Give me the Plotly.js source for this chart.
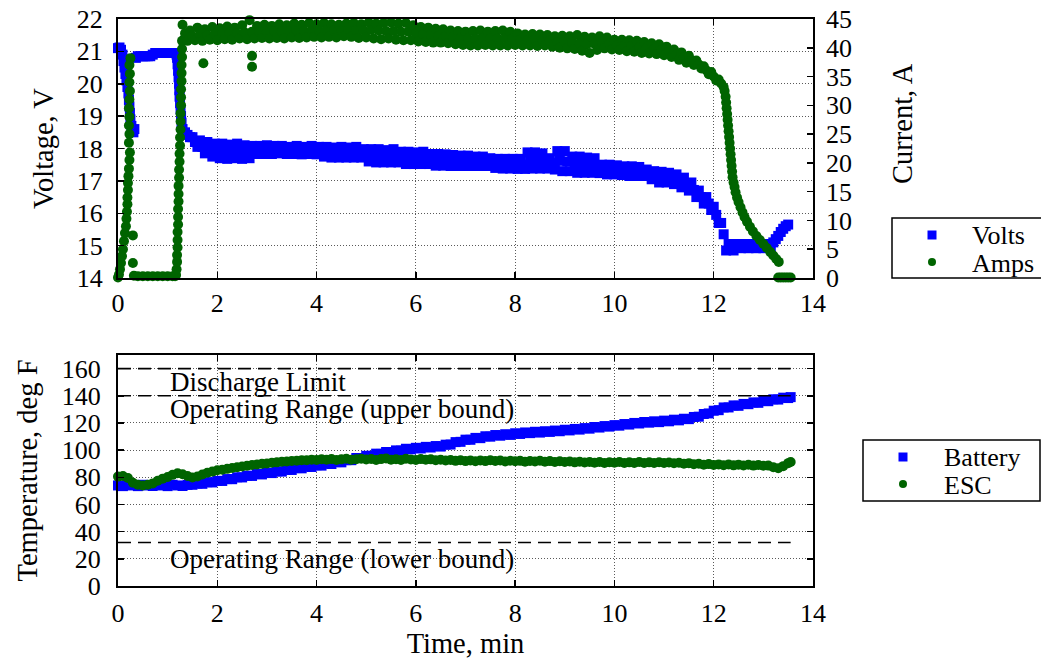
<!DOCTYPE html>
<html>
<head>
<meta charset="utf-8">
<script src="https://cdn.plot.ly/plotly-3.0.1.min.js"></script>
<style>
  html, body { margin: 0; padding: 0; background: #ffffff; }
  #chart { width: 1041px; height: 662px; }
</style>
</head>
<body>
<div id="chart"></div>
<script>
// ---------- Flight log: battery / ESC run, time in minutes ----------

// Pack voltage (V) during the start-up phase
const voltsLeadT = [0,0.03,0.06,0.09,0.11,0.13,0.15,0.17,0.19,0.21,0.22,0.23,0.24,0.25,0.27,0.29,0.31,0.33,
  0.36,0.4,0.45,0.5,0.55,0.6,0.65,0.7,0.75,0.8,0.85,0.9,0.95,1,1.05,1.1,1.15,
  1.18,1.19,1.2,1.21,1.22,1.23,1.235,1.24,1.25,1.26,1.27,1.28];
const voltsLeadV = [21.1,21.12,21.05,20.9,20.7,20.5,20.3,20.1,19.9,19.7,19.5,19.3,19.1,18.9,18.7,18.55,18.5,18.6,
  20.8,20.85,20.85,20.85,20.85,20.85,20.85,20.9,20.95,20.95,20.95,20.95,20.95,20.95,20.95,20.95,20.95,
  20.9,20.8,20.6,20.4,20.2,20.0,19.8,19.6,19.4,19.2,19.0,18.8];

// Logged sample times for the main part of the run (min)
const sampleT = [
  1.3,1.35,1.4,1.45,1.5,1.55,1.6,1.65,1.7,1.75,
  1.8,1.85,1.9,1.95,2,2.05,2.1,2.15,2.2,2.25,
  2.3,2.35,2.4,2.45,2.5,2.55,2.6,2.65,2.7,2.75,
  2.8,2.85,2.9,2.95,3,3.05,3.1,3.15,3.2,3.25,
  3.3,3.35,3.4,3.45,3.5,3.55,3.6,3.65,3.7,3.75,
  3.8,3.85,3.9,3.95,4,4.05,4.1,4.15,4.2,4.25,
  4.3,4.35,4.4,4.45,4.5,4.55,4.6,4.65,4.7,4.75,
  4.8,4.85,4.9,4.95,5,5.05,5.1,5.15,5.2,5.25,
  5.3,5.35,5.4,5.45,5.5,5.55,5.6,5.65,5.7,5.75,
  5.8,5.85,5.9,5.95,6,6.05,6.1,6.15,6.2,6.25,
  6.3,6.35,6.4,6.45,6.5,6.55,6.6,6.65,6.7,6.75,
  6.8,6.85,6.9,6.95,7,7.05,7.1,7.15,7.2,7.25,
  7.3,7.35,7.4,7.45,7.5,7.55,7.6,7.65,7.7,7.75,
  7.8,7.85,7.9,7.95,8,8.05,8.1,8.15,8.2,8.25,
  8.3,8.35,8.4,8.45,8.5,8.55,8.6,8.65,8.7,8.75,
  8.8,8.85,8.9,8.95,9,9.05,9.1,9.15,9.2,9.25,
  9.3,9.35,9.4,9.45,9.5,9.55,9.6,9.65,9.7,9.75,
  9.8,9.85,9.9,9.95,10,10.05,10.1,10.15,10.2,10.25,
  10.3,10.35,10.4,10.45,10.5,10.55,10.6,10.65,10.7,10.75,
  10.8,10.85,10.9,10.95,11,11.05,11.1,11.15,11.2,11.25,
  11.3,11.35,11.4,11.45,11.5,11.55,11.6,11.65,11.7,11.75,
  11.8,11.85,11.9,11.95,12,12.05,12.1,12.15,12.2,12.25,
  12.3,12.35,12.4,12.45,12.5,12.55,12.6,12.65,12.7,12.75,
  12.8,12.85,12.9,12.95,13,13.05,13.1,13.15,13.2,13.25,
  13.3,13.35,13.4,13.45,13.5];

// Pack voltage (V) at each sample time
const voltsMainV = [
  18.6,18.5,18.42,18.35,18.35,18.2,18.05,18.25,18.05,17.85,
  18.2,17.95,17.75,18.15,17.9,17.7,18.15,17.9,17.68,18.12,
  17.92,17.7,18.15,17.88,17.68,18.1,17.9,17.7,18.08,17.95,
  17.83,18.08,17.95,17.83,18.1,17.95,17.83,18.08,17.97,17.85,
  18.08,17.95,17.83,18.05,17.95,17.83,18.08,17.93,17.82,18.05,
  17.95,17.83,18.08,17.92,17.82,18.05,17.9,17.75,18.05,17.88,
  17.72,18.03,17.9,17.72,18.05,17.88,17.72,18.03,17.87,17.72,
  18.05,17.88,17.72,17.98,17.8,17.6,17.98,17.78,17.57,17.98,
  17.78,17.57,17.95,17.75,17.57,17.98,17.77,17.57,17.9,17.72,
  17.52,17.9,17.7,17.52,17.88,17.7,17.52,17.9,17.72,17.52,
  17.83,17.65,17.47,17.83,17.65,17.47,17.82,17.63,17.46,17.8,
  17.63,17.46,17.78,17.6,17.46,17.78,17.6,17.46,17.75,17.6,
  17.46,17.75,17.58,17.46,17.7,17.55,17.4,17.68,17.53,17.38,
  17.68,17.52,17.38,17.68,17.52,17.37,17.68,17.5,17.37,17.88,
  17.6,17.38,17.88,17.62,17.38,17.85,17.6,17.38,17.7,17.55,
  17.35,17.92,17.62,17.3,17.92,17.6,17.3,17.75,17.5,17.25,
  17.75,17.5,17.25,17.72,17.48,17.25,17.7,17.45,17.24,17.5,
  17.35,17.2,17.5,17.35,17.2,17.48,17.33,17.18,17.45,17.3,
  17.15,17.45,17.3,17.15,17.43,17.28,17.15,17.35,17.2,17.05,
  17.3,17.12,16.95,17.28,17.1,16.95,17.25,17.05,16.9,17.2,
  17.0,16.8,17.1,16.9,16.7,16.95,16.72,16.5,16.7,16.5,
  16.3,16.5,16.3,16.1,16.2,15.95,15.7,15.7,15.35,14.85,
  15.05,14.98,14.85,15.05,14.98,14.92,15.05,14.98,14.92,15.05,
  14.98,14.92,15.05,14.98,14.92,15.05,14.98,14.92,15.1,15.2,
  15.3,15.42,15.52,15.6,15.65];

// Motor current (A) during start-up
const ampsLeadT = [0,0.02,0.04,0.06,0.08,0.1,0.12,0.14,0.16,0.17,
  0.18,0.19,0.19,0.2,0.2,0.21,0.22,0.23,0.24,0.22,
  0.23,0.22,0.23,0.22,0.23,0.24,0.23,0.24,0.23,0.25,
  0.3,0.3,0.32,0.4,0.5,0.6,0.7,0.8,0.9,1,
  1.1,1.15,1.17,1.18,1.19,1.19,1.2,1.2,1.2,1.21,
  1.21,1.21,1.22,1.22,1.22,1.23,1.23,1.24,1.24,1.25,
  1.25,1.26,1.26,1.26,1.27,1.27,1.27,1.28,1.28,1.28,
  1.29,1.29,1.29];
const ampsLeadA = [0.1,0.6,1.5,2.6,3.8,5.0,6.4,7.8,9.0,10.3,
  11.5,12.8,14.0,15.3,16.5,17.7,19.0,20.5,21.8,23.5,
  25.0,26.5,28.0,29.5,31.0,32.5,34.0,35.5,37.0,38.2,
  7.4,2.6,0.4,0.3,0.3,0.3,0.3,0.3,0.3,0.3,
  0.3,0.3,0.5,1.5,2.8,4.0,5.3,6.6,8.0,9.3,
  10.6,12.0,13.3,14.6,16.0,17.4,18.8,20.2,21.6,23.0,
  24.4,25.8,27.2,28.6,30.0,31.4,32.8,34.2,35.6,37.0,
  38.4,39.8,41.2];

// Motor current (A) at sample times 1.30 ... 12.20
const ampsMainA = [
  44.0,42.5,41.2, 43.0,42.0,41.3, 43.5,42.3,41.2, 43.2,42.2,41.4, 43.6,42.4,41.3,
  43.4,42.5,41.5, 43.7,42.6,41.4, 43.5,42.5,41.6, 43.9,42.7,41.5, 44.8,42.8,41.6,
  43.8,42.7,41.7, 44.0,42.8,41.6, 43.8,42.9,41.7, 44.1,42.8,41.6, 43.9,42.9,41.8,
  44.2,43.0,41.7, 44.0,42.9,41.8, 44.3,43.0,41.9, 44.1,43.0,41.8, 44.3,43.1,41.9,
  44.1,43.0,41.8, 44.0,43.0,42.0, 44.2,43.1,41.9, 44.3,43.0,41.7, 44.1,43.0,41.8,
  44.4,43.1,41.6, 44.2,43.0,41.5, 44.3,42.9,41.6, 44.4,42.9,41.4, 44.2,42.8,41.3,
  44.3,42.8,41.3, 43.9,42.5,41.1, 43.6,42.3,41.0, 43.5,42.2,40.9, 43.3,42.0,40.9,
  43.2,42.0,40.8, 43.0,41.8,40.6, 42.9,41.7,40.5, 42.8,41.6,40.4, 42.9,41.6,40.4,
  43.0,41.7,40.5, 42.8,41.6,40.4, 42.9,41.6,40.4, 43.0,41.7,40.4, 42.8,41.6,40.5,
  42.5,41.4,40.4, 42.3,41.3,40.4, 42.4,41.4,40.3, 42.3,41.3,40.4, 42.2,41.2,40.2,
  42.0,41.0,40.0, 42.1,41.0,39.9, 42.0,40.9,39.8, 42.2,40.8,39.5, 41.9,40.6,39.1,
  41.8,40.7,39.6, 42.0,40.9,39.9, 41.8,40.7,39.7, 41.4,40.4,39.6, 41.4,40.4,39.4,
  41.3,40.3,39.3, 41.2,40.1,39.1, 41.0,40.0,39.0, 40.8,39.8,38.9, 40.6,39.6,38.7,
  40.2,39.3,38.4, 39.7,38.8,37.9, 39.2,38.3,37.4, 38.6,37.8,37.0, 37.8,37.1,36.4,
  36.8,36.1,35.4, 35.8,35.0,34.3, 34.5,33.8,33.2];

// Current collapse at the end of the run, then cut-off
const ampsTailT = [12.22,12.24,12.25,12.26,12.27,12.28,12.29,12.3,12.31,12.32,
  12.33,12.34,12.35,12.36,12.37,12.38,12.4,12.42,12.44,12.47,
  12.5,12.54,12.58,12.62,12.67,12.73,12.79,12.86,12.93,13,
  13.07,13.14,13.2,13.26,13.31,
  13.3,13.35,13.4,13.45,13.5,13.55];
const ampsTailA = [32.5,31.5,30.5,29.5,28.5,27.5,26.5,25.5,24.5,23.5,
  22.5,21.5,20.5,19.5,18.5,17.5,16.6,15.8,14.9,14.0,
  13.2,12.3,11.4,10.6,9.8,8.9,8.1,7.3,6.6,5.9,
  5.2,4.5,3.9,3.3,2.8,
  0.1,0.1,0.1,0.1,0.1,0.1];

// Isolated current readings
const ampsStrayT = [1.72, 2.7, 2.7];
const ampsStrayA = [37.3, 38.6, 36.7];

// Temperature log (deg F)
const tempT = [
  0,0.1,0.2,0.3,0.4,0.5,0.6,0.7,0.8,0.9,
  1,1.1,1.2,1.3,1.4,1.5,1.6,1.7,1.8,1.9,
  2,2.1,2.2,2.3,2.4,2.5,2.6,2.7,2.8,2.9,
  3,3.1,3.2,3.3,3.4,3.5,3.6,3.7,3.8,3.9,
  4,4.1,4.2,4.3,4.4,4.5,4.6,4.7,4.8,4.9,
  5,5.1,5.2,5.3,5.4,5.5,5.6,5.7,5.8,5.9,
  6,6.1,6.2,6.3,6.4,6.5,6.6,6.7,6.8,6.9,
  7,7.1,7.2,7.3,7.4,7.5,7.6,7.7,7.8,7.9,
  8,8.1,8.2,8.3,8.4,8.5,8.6,8.7,8.8,8.9,
  9,9.1,9.2,9.3,9.4,9.5,9.6,9.7,9.8,9.9,
  10,10.1,10.2,10.3,10.4,10.5,10.6,10.7,10.8,10.9,
  11,11.1,11.2,11.3,11.4,11.5,11.6,11.7,11.8,11.9,
  12,12.1,12.2,12.3,12.4,12.5,12.6,12.7,12.8,12.9,
  13,13.1,13.2,13.3,13.4,13.5,13.55];
const batteryF = [
  74,73.5,74.5,74,73.5,74.5,74,73.6,74.4,74,
  73.5,74.5,74,73.6,74.4,74.5,75.4,75.2,76.4,76.2,
  77.4,77.3,78.7,78.6,80.0,79.9,81.2,81.0,82.4,82.1,
  83.4,83.1,84.4,84.2,85.6,85.4,86.8,86.6,87.9,87.6,
  88.9,88.6,90.0,89.8,91.2,91.0,92.6,92.6,94.2,94.2,
  95.8,95.8,97.4,97.2,98.6,98.4,99.8,99.6,101.0,100.6,
  101.7,101.2,102.4,101.9,103.0,102.6,104.0,104.1,105.9,106.1,
  107.7,107.6,109.0,108.8,110.2,109.9,111.1,110.6,111.7,111.2,
  112.4,111.9,113.0,112.5,113.5,112.9,113.9,113.4,114.4,113.9,
  115.0,114.5,115.6,115.1,116.2,115.8,117.0,116.6,117.7,117.3,
  118.4,118.0,119.2,118.8,120.0,119.6,120.7,120.2,121.2,120.6,
  121.7,121.2,122.4,121.9,123.1,122.8,124.4,124.6,126.6,127.0,
  129.0,129.4,131.4,131.4,132.9,132.6,134.0,133.8,135.1,134.8,
  136.2,136.0,137.4,137.2,138.6,138.3,139.0];
const escF = [
  80.5,81,79.5,76,74.5,74,74.5,75.5,77.5,79,
  80.2,81.8,83,82.2,81,79.8,80.6,82,83.4,84.2,
  85.2,85.6,86.2,86.8,87.4,88,88.5,89.1,89.4,89.9,
  90.2,90.7,91.0,91.4,91.6,92.0,92.2,92.5,92.6,92.9,
  92.8,93.3,92.9,93.4,92.8,93.2,93.6,92.9,93.3,93.7,
  93.1,93.5,92.8,93.4,93.8,93.0,93.3,92.7,93.6,93.1,
  92.8,93.4,92.9,93.2,92.5,92.9,92.3,92.7,92.1,92.5,
  91.9,92.4,91.8,92.3,91.9,92.6,92.0,92.4,91.7,92.2,
  91.8,92.1,91.5,92.0,91.6,92.2,91.5,91.9,91.3,91.8,
  91.2,91.6,91.0,91.5,90.9,91.3,90.7,91.2,90.6,91.1,
  90.7,91.2,90.5,91.0,90.6,91.2,90.5,91.0,90.6,91.1,
  90.5,90.9,90.3,90.7,90.0,90.4,89.6,90.0,89.3,89.7,
  89.1,89.5,88.9,89.4,88.8,89.3,88.7,89.2,88.6,89.1,
  88.5,88.6,87.4,86.6,88.2,90.4,91.2];

// Temperature limits (deg F) and their captions
const limitF = [160, 140, 32];
const limitLabels = ['Discharge Limit', 'Operating Range (upper bound)', 'Operating Range (lower bound)'];
const limitLabelF = [150, 130, 20];

// Series names
const topNames = ['Volts', 'Amps'];
const bottomNames = ['Battery', 'ESC'];

// ---------- figure ----------
const W = 1041, H = 662;
const M = { l: 118, r: 228, t: 19, b: 76 };
const plotW = W - M.l - M.r, plotH = H - M.t - M.b;
const px2x = p => (p - M.l) / plotW;          // page pixel -> paper x
const px2y = p => (H - M.b - p) / plotH;      // page pixel -> paper y

const BLUE = '#0000ff', GREEN = '#006400';
const SERIF = '"Liberation Serif", "Times New Roman", Times, serif';
const TICK_FS = 26;     // tick numbers
const TITLE_FS = 28.5;  // axis captions
const NOTE_FS = 27;     // limit captions
const KEY_FS = 26;      // key entries

const voltsT = voltsLeadT.concat(sampleT);
const voltsV = voltsLeadV.concat(voltsMainV);
const ampsT = ampsLeadT.concat(sampleT.slice(0, ampsMainA.length), ampsTailT, ampsStrayT);
const ampsA = ampsLeadA.concat(ampsMainA, ampsTailA, ampsStrayA);

const sq = { symbol: 'square', size: 10, color: BLUE, line: { width: 0 } };
const dot = { symbol: 'circle', size: 10, color: GREEN, line: { width: 0 } };

const traces = [
  { type: 'scatter', mode: 'markers', name: topNames[0], x: voltsT, y: voltsV,
    xaxis: 'x', yaxis: 'y', marker: sq, cliponaxis: false, hoverinfo: 'skip' },
  { type: 'scatter', mode: 'markers', name: topNames[1], x: ampsT, y: ampsA,
    xaxis: 'x', yaxis: 'y2', marker: dot, cliponaxis: false, hoverinfo: 'skip' },
  { type: 'scatter', mode: 'markers', name: bottomNames[0], x: tempT, y: batteryF,
    xaxis: 'x2', yaxis: 'y3', marker: sq, cliponaxis: false, hoverinfo: 'skip' },
  { type: 'scatter', mode: 'markers', name: bottomNames[1], x: tempT, y: escF,
    xaxis: 'x2', yaxis: 'y3', marker: dot, cliponaxis: false, hoverinfo: 'skip' }
];

const gridStyle = { showgrid: true, gridcolor: '#5a5a5a', gridwidth: 1, griddash: '1px,2px' };
const frame = { showline: true, linecolor: 'black', linewidth: 2, zeroline: false,
  ticks: 'inside', ticklen: 6, tickwidth: 1.5, tickcolor: 'black',
  tickfont: { family: SERIF, size: TICK_FS, color: 'black' } };
const titleFont = { family: SERIF, size: TITLE_FS, color: 'black' };

const topBottom = px2y(278);
const bottomTop = px2y(355);

const layout = {
  width: W, height: H,
  margin: Object.assign({ autoexpand: false }, M),
  paper_bgcolor: '#ffffff', plot_bgcolor: '#ffffff',
  font: { family: SERIF, size: TICK_FS, color: 'black' },
  showlegend: false,
  xaxis: Object.assign({}, frame, gridStyle, { domain: [0, 1], anchor: 'y',
    range: [0, 14], tick0: 0, dtick: 2, mirror: 'ticks', ticklabelstandoff: 1 }),
  yaxis: Object.assign({}, frame, gridStyle, { domain: [topBottom, 1], anchor: 'x',
    range: [14, 22], tick0: 14, dtick: 1, mirror: true, ticklabelstandoff: 8,
    title: { text: 'Voltage, V', standoff: 15, font: titleFont } }),
  yaxis2: Object.assign({}, frame, { overlaying: 'y', side: 'right', anchor: 'x',
    range: [0, 45], tick0: 0, dtick: 5, showgrid: false, showline: false, ticklabelstandoff: 12 }),
  xaxis2: Object.assign({}, frame, gridStyle, { domain: [0, 1], anchor: 'y3',
    range: [0, 14], tick0: 0, dtick: 2, mirror: 'ticks', ticklabelstandoff: 3,
    title: { text: 'Time, min', standoff: 6, font: titleFont } }),
  yaxis3: Object.assign({}, frame, gridStyle, { domain: [0, bottomTop], anchor: 'x2',
    range: [0, 170], tickvals: [0,20,40,60,80,100,120,140,160],
    mirror: 'ticks', ticklabelstandoff: 10,
    title: { text: 'Temperature, deg F', standoff: 16, font: titleFont } }),
  shapes: [],
  annotations: [
    // right-hand axis caption for the current scale
    { xref: 'paper', yref: 'paper', x: px2x(902), y: px2y(124), text: 'Current, A',
      textangle: -90, showarrow: false, xanchor: 'center', yanchor: 'middle',
      font: titleFont }
  ]
};

// Temperature limit lines across the logged interval, with captions
limitF.forEach((v, i) => {
  layout.shapes.push({ type: 'line', xref: 'x2', yref: 'y3', layer: 'above',
    x0: tempT[0], x1: tempT[tempT.length - 1], y0: v, y1: v,
    line: { color: 'black', width: 1.6, dash: '13px,7px' } });
  layout.annotations.push({ xref: 'x2', yref: 'y3', x: 1, y: limitLabelF[i],
    text: limitLabels[i], showarrow: false, xanchor: 'left', yanchor: 'middle',
    font: { family: SERIF, size: NOTE_FS, color: 'black' } });
});

// Boxed keys beside each panel
function addKey(box, rows) {
  layout.shapes.push({ type: 'rect', xref: 'paper', yref: 'paper', layer: 'above',
    x0: px2x(box.x0), x1: px2x(box.x1), y0: px2y(box.y1), y1: px2y(box.y0),
    line: { color: 'black', width: 1.5 }, fillcolor: 'rgba(0,0,0,0)' });
  rows.forEach(r => {
    const h = r.size / 2;
    layout.shapes.push({ type: r.kind, xref: 'paper', yref: 'paper', layer: 'above',
      x0: px2x(r.mx - h), x1: px2x(r.mx + h), y0: px2y(r.my + h), y1: px2y(r.my - h),
      line: { width: 0 }, fillcolor: r.color });
    layout.annotations.push({ xref: 'paper', yref: 'paper', x: px2x(r.tx), y: px2y(r.ty),
      text: r.label, showarrow: false, xanchor: 'left', yanchor: 'middle',
      font: { family: SERIF, size: KEY_FS, color: 'black' } });
  });
}
addKey({ x0: 892, x1: 1046, y0: 218, y1: 278 }, [
  { kind: 'rect', size: 9, color: BLUE, mx: 932, my: 235, tx: 970, ty: 235, label: topNames[0] },
  { kind: 'circle', size: 8, color: GREEN, mx: 932, my: 262, tx: 970, ty: 263, label: topNames[1] }
]);
addKey({ x0: 863, x1: 1040, y0: 440, y1: 501 }, [
  { kind: 'rect', size: 9, color: BLUE, mx: 903, my: 457, tx: 942, ty: 457, label: bottomNames[0] },
  { kind: 'circle', size: 8, color: GREEN, mx: 903, my: 484, tx: 942, ty: 485, label: bottomNames[1] }
]);

Plotly.newPlot('chart', traces, layout, { displayModeBar: false, staticPlot: true });
</script>
</body>
</html>
